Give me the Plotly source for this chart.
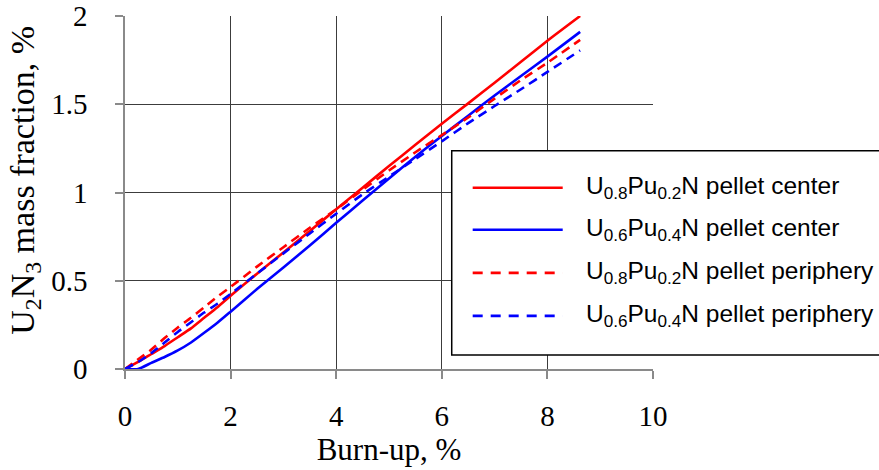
import plotly.graph_objects as go

# Burn-up grid (%) shared by all four curves
burnup = [0, 0.25, 0.5, 0.75, 1.0, 1.25, 1.5, 1.75, 2.0, 2.5, 3.0, 3.5,
          4.0, 4.5, 5.0, 5.5, 6.0, 6.5, 7.0, 7.5, 8.0, 8.62]

# U2N3 mass fraction (%)
u08_center = [0, 0.04, 0.085, 0.13, 0.18, 0.23, 0.29, 0.35, 0.415, 0.54, 0.66, 0.782,
              0.905, 1.027, 1.15, 1.27, 1.39, 1.505, 1.622, 1.741, 1.86, 2.0]
u06_center = [0, 0.0, 0.035, 0.068, 0.105, 0.15, 0.205, 0.262, 0.325, 0.453, 0.575, 0.70,
              0.828, 0.955, 1.08, 1.203, 1.32, 1.435, 1.55, 1.66, 1.77, 1.91]
u08_periph = [0, 0.055, 0.11, 0.175, 0.235, 0.29, 0.35, 0.41, 0.465, 0.58, 0.69, 0.80,
              0.905, 1.015, 1.125, 1.228, 1.325, 1.425, 1.532, 1.637, 1.735, 1.865]
u06_periph = [0, 0.04, 0.09, 0.15, 0.21, 0.265, 0.32, 0.37, 0.425, 0.54, 0.655, 0.768,
              0.88, 0.99, 1.09, 1.19, 1.29, 1.393, 1.49, 1.585, 1.683, 1.805]

series_names = [
    "U<sub>0.8</sub>Pu<sub>0.2</sub>N pellet center",
    "U<sub>0.6</sub>Pu<sub>0.4</sub>N pellet center",
    "U<sub>0.8</sub>Pu<sub>0.2</sub>N pellet periphery",
    "U<sub>0.6</sub>Pu<sub>0.4</sub>N pellet periphery",
]
series_values = [u08_center, u06_center, u08_periph, u06_periph]
series_colors = ["#ff0000", "#0000ff", "#ff0000", "#0000ff"]
series_dash = ["solid", "solid", "9px,6px", "9px,6px"]

x_ticks = [0, 2, 4, 6, 8, 10]
y_ticks = [0, 0.5, 1, 1.5, 2]

fig = go.Figure()
for name, vals, col, dash in zip(series_names, series_values, series_colors, series_dash):
    fig.add_trace(go.Scatter(
        x=burnup, y=vals, mode="lines", name=name,
        line=dict(color=col, width=2.6, dash=dash, shape="spline", smoothing=0.5),
        showlegend=False,
    ))

serif = "Liberation Serif, Times New Roman, serif"
sans = "Liberation Sans, Arial, sans-serif"

axis_common = dict(
    automargin=False,
    showgrid=True, gridcolor="#3c3c3c", gridwidth=1,
    showline=True, linecolor="#8a8a8a", linewidth=1.5,
    ticks="outside", ticklen=8, tickcolor="#8a8a8a", tickwidth=1.5,
    zeroline=False,
    tickfont=dict(family=serif, size=29, color="black"),
)

fig.update_layout(
    template="none",
    width=879, height=470,
    margin=dict(l=125, r=226, t=16, b=101),
    paper_bgcolor="white", plot_bgcolor="white",
    xaxis=dict(range=[0, 10], tickvals=x_ticks, ticklabelstandoff=12,
               title=dict(text="Burn-up, %", font=dict(family=serif, size=31, color="black"),
                          standoff=5),
               **axis_common),
    yaxis=dict(range=[0, 2], tickvals=y_ticks, ticklabelstandoff=22,
               **axis_common),
)

# Vertical axis title
fig.add_annotation(xref="paper", yref="paper", x=-0.19, y=0.535,
                   xanchor="center", yanchor="middle", textangle=-90, showarrow=False,
                   text="U<sub>2</sub>N<sub>3</sub> mass fraction, %",
                   font=dict(family=serif, size=34, color="black"))

# Legend box (white panel with black border)
fig.add_shape(type="rect", xref="paper", yref="paper",
              x0=0.6188, x1=1.45, y0=0.0397, y1=0.6184,
              line=dict(color="black", width=1.5), fillcolor="white", layer="above")

legend_rows = [0.5135, 0.3943, 0.2723, 0.1504]
for name, col, dash, yr in zip(series_names, series_colors, series_dash, legend_rows):
    fig.add_shape(type="line", xref="paper", yref="paper",
                  x0=0.6585, x1=0.829, y0=yr, y1=yr, layer="above",
                  line=dict(color=col, width=2.6,
                            dash="solid" if dash == "solid" else "10px,8px"))
    fig.add_annotation(xref="paper", yref="paper", x=0.8687, y=yr,
                       xanchor="left", yanchor="middle", showarrow=False,
                       text=name, font=dict(family=sans, size=24.5, color="black"))

fig.write_html("out.html")
